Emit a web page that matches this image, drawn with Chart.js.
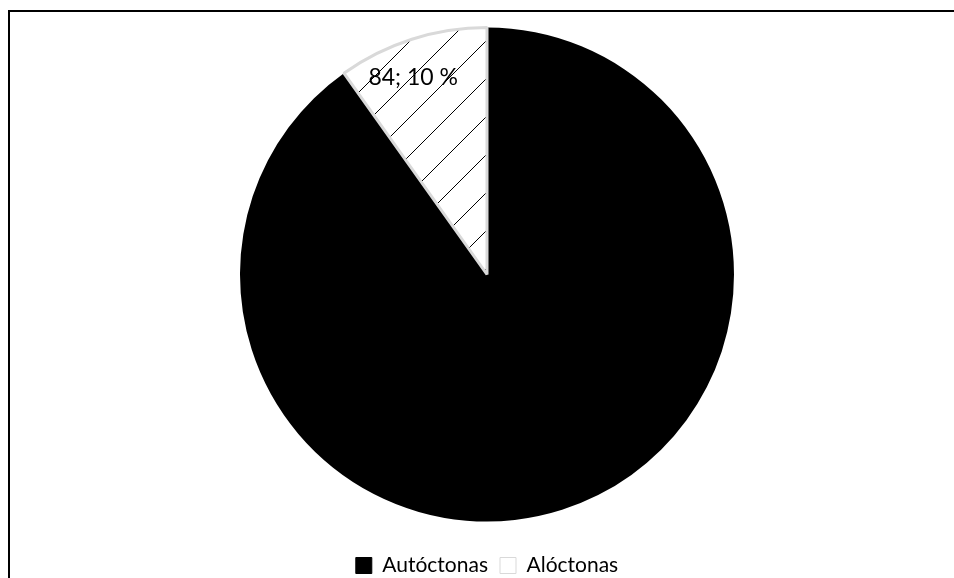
<!DOCTYPE html>
<html>
<head>
<meta charset="utf-8">
<script src="https://cdn.jsdelivr.net/npm/chart.js@4/dist/chart.umd.min.js"></script>
<style>
  body { margin: 0; background: #fff; overflow: hidden; }
  #frame { position: absolute; left: 8px; top: 10px; width: 1000px; height: 700px;
           border-top: 2px solid #000; border-left: 2px solid #000; }
  #wrap { position: absolute; left: 0; top: 0; width: 954px; height: 578px; }
</style>
</head>
<body>
<div id="frame"></div>
<div id="wrap"><canvas id="pieChart" width="954" height="578"></canvas></div>
<script>
// datos
const categories = ['Autóctonas', 'Alóctonas'];
const values = [770, 84];
const sliceColors = ['#000000', 'hatch'];

// trama diagonal para Alóctonas
function makeHatch() {
  const size = 38;
  const c = document.createElement('canvas');
  c.width = size;
  c.height = size;
  const g = c.getContext('2d');
  g.fillStyle = '#fff';
  g.fillRect(0, 0, size, size);
  g.strokeStyle = '#000';
  g.lineWidth = 1;
  [-5, 33, 71].forEach(k => {
    g.beginPath();
    g.moveTo(k + 3, -3);
    g.lineTo(-3, k + 3);
    g.stroke();
  });
  return g.createPattern(c, 'repeat');
}

const hatch = makeHatch();
const total = values.reduce((a, b) => a + b, 0);

// etiqueta "valor; %"
const sliceLabel = {
  id: 'sliceLabel',
  afterDatasetsDraw(chart) {
    const ctx = chart.ctx;
    const meta = chart.getDatasetMeta(0);
    const arc = meta.data[1];
    const p = arc.getProps(['x', 'y', 'startAngle', 'endAngle', 'outerRadius'], true);
    const mid = (p.startAngle + p.endAngle) / 2 - 0.05;
    const r = p.outerRadius * 0.85;
    const x = p.x + Math.cos(mid) * r;
    const y = p.y + Math.sin(mid) * r;
    const pct = Math.round(values[1] / total * 100);
    ctx.save();
    ctx.font = '23px Lato';
    ctx.fillStyle = '#000';
    ctx.textAlign = 'center';
    ctx.textBaseline = 'middle';
    ctx.fillText(values[1] + '; ' + pct + ' %', x, y);
    ctx.restore();
  }
};

// bajar la leyenda hacia el borde inferior
const legendShift = {
  id: 'legendShift',
  afterLayout(chart) {
    chart.legend.top += 20;
    chart.legend.bottom += 20;
  }
};

const ctx = document.getElementById('pieChart').getContext('2d');
new Chart(ctx, {
  type: 'pie',
  data: {
    labels: categories,
    datasets: [{
      data: values,
      backgroundColor: sliceColors.map(c => c === 'hatch' ? hatch : c),
      borderColor: ['#000000', '#d9d9d9'],
      borderWidth: [0, 3]
    }]
  },
  options: {
    responsive: false,
    animation: false,
    layout: { padding: { top: 26, left: 20, right: 0, bottom: 12 } },
    plugins: {
      tooltip: { enabled: false },
      legend: {
        position: 'bottom',
        labels: {
          font: { family: 'Lato', size: 21 },
          color: '#000',
          boxWidth: 16,
          boxHeight: 16,
          padding: 12,
          generateLabels: () => categories.map((name, i) => ({
            text: name,
            fillStyle: i === 0 ? '#000' : '#fff',
            strokeStyle: i === 0 ? '#000' : '#d9d9d9',
            lineWidth: 1,
            fontColor: '#000',
            index: i
          }))
        }
      }
    }
  },
  plugins: [sliceLabel, legendShift]
});
</script>
</body>
</html>
